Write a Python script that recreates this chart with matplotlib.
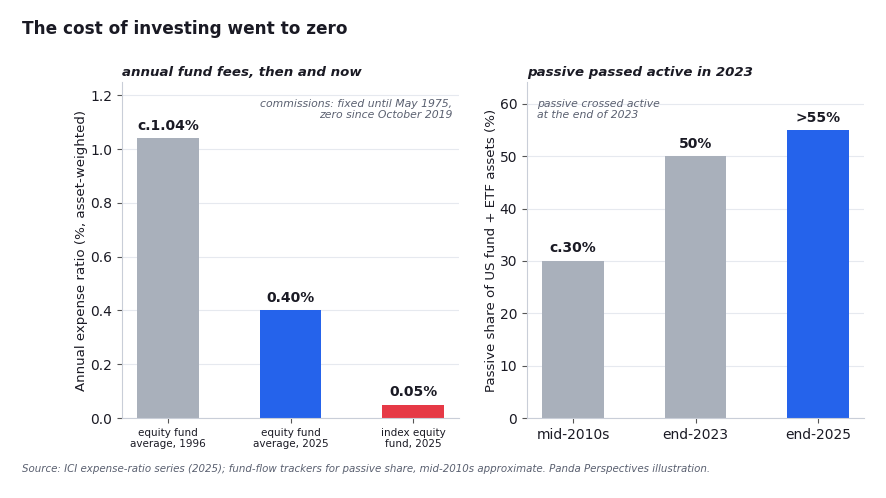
import matplotlib
matplotlib.use("Agg")
import matplotlib.pyplot as plt

fee_labels = ["equity fund\naverage, 1996", "equity fund\naverage, 2025", "index equity\nfund, 2025"]
fee_values = [1.04, 0.40, 0.05]
fee_text = ["c.1.04%", "0.40%", "0.05%"]
fee_colors = ["#a9b0bb", "#2563eb", "#e63946"]

share_labels = ["mid-2010s", "end-2023", "end-2025"]
share_values = [30, 50, 55]
share_text = ["c.30%", "50%", ">55%"]
share_colors = ["#a9b0bb", "#a9b0bb", "#2563eb"]

dark = "#1a1a24"
grey_txt = "#5a6070"
spine_c = "#c9ced8"
grid_c = "#e6e9ef"

fig = plt.figure(figsize=(8.86, 4.98), dpi=100)
ax1 = fig.add_axes([122/886, 1-418/498, (459-122)/886, (418-82)/498])
ax2 = fig.add_axes([527/886, 1-418/498, (864-527)/886, (418-82)/498])

def style(ax):
    for s in ["top", "right"]:
        ax.spines[s].set_visible(False)
    for s in ["left", "bottom"]:
        ax.spines[s].set_color(spine_c)
    ax.grid(axis="y", color=grid_c, linewidth=0.8)
    ax.set_axisbelow(True)
    ax.tick_params(colors=dark, labelsize=10)
    ax.tick_params(axis="both", color="#555", length=3.5)

x1 = list(range(len(fee_values)))
ax1.bar(x1, fee_values, width=0.5, color=fee_colors)
style(ax1)
ax1.set_xticks(x1)
ax1.set_xticklabels(fee_labels, fontsize=7.5, linespacing=1.15)
ax1.set_ylim(0, 1.25)
ax1.set_yticks([0, 0.2, 0.4, 0.6, 0.8, 1.0, 1.2])
ax1.set_ylabel("Annual expense ratio (%, asset-weighted)", fontsize=9.6, color=dark, labelpad=1.5)
for xi, v, t in zip(x1, fee_values, fee_text):
    ax1.annotate(t, (xi, v), xytext=(0, 4), textcoords="offset points",
                 ha="center", va="bottom", fontsize=10, fontweight="bold", color=dark)
ax1.set_title("annual fund fees, then and now", loc="left", fontsize=9.6,
              fontweight="bold", fontstyle="italic", color=dark, pad=4.5)
ax1.text(0.98, 0.95, "commissions: fixed until May 1975,\nzero since October 2019",
         transform=ax1.transAxes, ha="right", va="top", fontsize=7.8,
         fontstyle="italic", color=grey_txt, linespacing=1.2)

x2 = list(range(len(share_values)))
ax2.bar(x2, share_values, width=0.5, color=share_colors)
style(ax2)
ax2.set_xticks(x2)
ax2.set_xticklabels(share_labels, fontsize=10)
ax2.set_ylim(0, 64.2)
ax2.set_yticks([0, 10, 20, 30, 40, 50, 60])
ax2.set_ylabel("Passive share of US fund + ETF assets (%)", fontsize=9.6, color=dark, labelpad=1.5)
for xi, v, t in zip(x2, share_values, share_text):
    ax2.annotate(t, (xi, v), xytext=(0, 4), textcoords="offset points",
                 ha="center", va="bottom", fontsize=10, fontweight="bold", color=dark)
ax2.set_title("passive passed active in 2023", loc="left", fontsize=9.6,
              fontweight="bold", fontstyle="italic", color=dark, pad=4.5)
ax2.text(0.03, 0.95, "passive crossed active\nat the end of 2023",
         transform=ax2.transAxes, ha="left", va="top", fontsize=7.8,
         fontstyle="italic", color=grey_txt, linespacing=1.2)

fig.text(22/886, 1-29/498, "The cost of investing went to zero", fontsize=12.2,
         fontweight="bold", color=dark, ha="left", va="center")
fig.text(22/886, 1-469/498,
         "Source: ICI expense-ratio series (2025); fund-flow trackers for passive share, mid-2010s approximate. Panda Perspectives illustration.",
         fontsize=7.4, fontstyle="italic", color=grey_txt, ha="left", va="center")

fig.savefig("out.png", dpi=100)
